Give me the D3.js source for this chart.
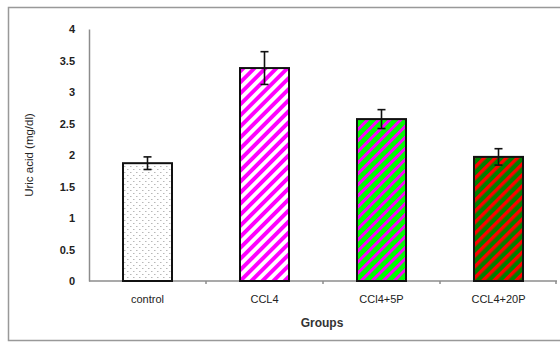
<!DOCTYPE html>
<html><head><meta charset="utf-8">
<script src="https://cdn.jsdelivr.net/npm/d3@7"></script>
<style>body{margin:0;background:#fff}svg{display:block}</style>
</head><body>
<script>
const categories = ["control", "CCL4", "CCl4+5P", "CCL4+20P"];
const values = [1.87, 3.38, 2.57, 1.97];
const errors = [0.10, 0.26, 0.15, 0.13];
const yTicks = [0, 0.5, 1, 1.5, 2, 2.5, 3, 3.5, 4];
const yTickLabels = ["0", "0.5", "1", "1.5", "2", "2.5", "3", "3.5", "4"];
const yTitle = "Uric acid (mg/dl)";
const xTitle = "Groups";
const fills = ["url(#pDots)", "url(#pMag)", "url(#pGreenMag)", "url(#pGreenRed)"];

const W = 560, H = 343;
const svg = d3.select("body").append("svg").attr("width", W).attr("height", H);
const defs = svg.append("defs");

// patterns
const pd = defs.append("pattern").attr("id", "pDots").attr("patternUnits", "userSpaceOnUse")
  .attr("width", 6).attr("height", 6);
pd.append("rect").attr("width", 6).attr("height", 6).attr("fill", "#fff");
pd.append("rect").attr("x", 1).attr("y", 1).attr("width", 1.5).attr("height", 1).attr("fill", "#b8b8b8");
pd.append("rect").attr("x", 4).attr("y", 4).attr("width", 1.5).attr("height", 1).attr("fill", "#b8b8b8");

function stripe(id, bg, fg, sw) {
  const s = 7.8;
  const p = defs.append("pattern").attr("id", id).attr("patternUnits", "userSpaceOnUse")
    .attr("width", s).attr("height", s).attr("patternTransform", "rotate(-45)");
  p.append("rect").attr("width", s).attr("height", s).attr("fill", bg);
  p.append("rect").attr("width", s).attr("height", sw).attr("fill", fg);
}
stripe("pMag", "#ffffff", "#ff00ff", 3.9);
stripe("pGreenMag", "#00ff00", "#ff00ff", 3.0);
stripe("pGreenRed", "#008000", "#ff0000", 3.4);

// outer frame
svg.append("rect").attr("x", 8.5).attr("y", 7.5).attr("width", W + 10).attr("height", 333)
  .attr("fill", "none").attr("stroke", "#999").attr("stroke-width", 1.5);

const x0 = 89, x1 = 557, yTop = 29, yBot = 281;
const x = d3.scaleBand().domain(categories).range([x0, x1]).paddingInner(0).paddingOuter(0);
const y = d3.scaleLinear().domain([0, 4]).range([yBot, yTop]);

// y axis
const yAxis = d3.axisLeft(y).tickValues(yTicks).tickFormat((d, i) => yTickLabels[i]).tickSize(0).tickPadding(16);
const gy = svg.append("g").attr("transform", `translate(${x0},0)`).call(yAxis);
gy.select(".domain").attr("stroke", "#8c8c8c").attr("stroke-width", 1.5);
gy.selectAll("text").attr("font-family", "Liberation Sans, Arial, sans-serif").attr("font-size", 11)
  .attr("fill", "#222").attr("font-weight", "bold").attr("dx", "2");

// x axis
const gx = svg.append("g").attr("transform", `translate(0,${yBot})`);
gx.append("line").attr("x1", x0).attr("x2", x1).attr("y1", 0).attr("y2", 0).attr("stroke", "#8c8c8c").attr("stroke-width", 1.5);
gx.selectAll("line.tk").data(categories.slice(1).concat(["__end"])).join("line")
  .attr("class", "tk")
  .attr("x1", d => d === "__end" ? x1 - 1 : x(d)).attr("x2", d => d === "__end" ? x1 - 1 : x(d))
  .attr("y1", 0).attr("y2", 3).attr("stroke", "#8c8c8c").attr("stroke-width", 1.5);
gx.selectAll("text").data(categories).join("text")
  .attr("x", d => x(d) + x.bandwidth() / 2).attr("y", 22)
  .attr("text-anchor", "middle").attr("font-family", "Liberation Sans, Arial, sans-serif")
  .attr("font-size", 11).attr("fill", "#222").text(d => d);

// bars
const bw = 49;
svg.selectAll("rect.bar").data(categories).join("rect").attr("class", "bar")
  .attr("x", d => x(d) + x.bandwidth() / 2 - bw / 2)
  .attr("y", (d, i) => y(values[i]))
  .attr("width", bw)
  .attr("height", (d, i) => yBot - y(values[i]))
  .attr("fill", (d, i) => fills[i])
  .attr("stroke", "#111").attr("stroke-width", 2);

// error bars
const eg = svg.append("g").attr("stroke", "#111").attr("stroke-width", 1.6);
categories.forEach((c, i) => {
  const cx = x(c) + x.bandwidth() / 2;
  const t = y(values[i] + errors[i]), b = y(values[i] - errors[i]);
  eg.append("line").attr("x1", cx).attr("x2", cx).attr("y1", t).attr("y2", b);
  eg.append("line").attr("x1", cx - 4).attr("x2", cx + 4).attr("y1", t).attr("y2", t);
  eg.append("line").attr("x1", cx - 4).attr("x2", cx + 4).attr("y1", b).attr("y2", b);
});

// titles
svg.append("text").attr("transform", "translate(33,155) rotate(-90)")
  .attr("text-anchor", "middle").attr("font-family", "Liberation Sans, Arial, sans-serif")
  .attr("font-size", 11.5).attr("fill", "#222").text(yTitle);
svg.append("text").attr("x", 322).attr("y", 327).attr("text-anchor", "middle")
  .attr("font-family", "Liberation Sans, Arial, sans-serif").attr("font-size", 12)
  .attr("font-weight", "bold").attr("fill", "#333").text(xTitle);
</script>
</body></html>
